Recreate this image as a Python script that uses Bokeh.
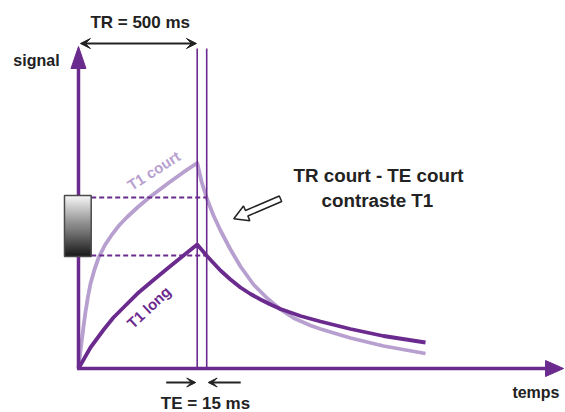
import numpy as np
from bokeh.plotting import figure
from bokeh.models import Range1d, Arrow, VeeHead, LinearColorMapper
from bokeh.palettes import Greys256
from bokeh.core.properties import value
from bokeh.embed import file_html
from bokeh.resources import INLINE

# ---------------- data (time in ms, signal in arbitrary units) ----------------
TR_MS = 500          # repetition time
TE_MS = 15           # echo time
te_line_ms = 540     # schematic position of the TE line (drawn wider than scale)

# T1 court (short T1) : recovery then decay
court_t = [0, 6.3, 15.6, 22.3, 29.5, 40.0, 50.5, 67.4, 85.5, 111.6, 141.9, 170.6,
           205.1, 252.7, 303.3, 387.5, 442.3, 500,
           518.1, 539.1, 568.6, 598.1, 640.2, 682.3, 737.1, 796.1, 850.8, 905.6,
           977.2, 1019.3, 1145.7, 1284.7, 1461.6]
court_s = [0, 6.75, 15.65, 22.0, 28.25, 36.0, 42.35, 49.5, 55.65, 61.75, 67.1, 71.5,
           75.75, 81.0, 86.0, 93.5, 98.15, 102.75,
           93.5, 85.5, 76.5, 69.0, 59.5, 51.0, 42.0, 35.0, 29.5, 25.25,
           21.5, 19.75, 15.25, 11.25, 7.5]

# T1 long : recovery then decay
long_t = [0, 25.3, 50.5, 106.6, 147.4, 198.0, 247.2, 315.9, 387.5, 442.3, 500,
          539.1, 598.1, 640.2, 682.3, 724.5, 766.6, 808.7, 850.8, 935.1, 1019.3,
          1145.7, 1284.7, 1461.6]
long_s = [0, 5.25, 10.5, 19.5, 25.5, 31.5, 37.35, 44.25, 51.25, 56.5, 62.0,
          56.5, 49.0, 44.5, 40.5, 37.25, 34.5, 32.0, 29.75, 26.25, 23.5,
          19.75, 16.25, 13.0]

# signal read at TE for each tissue (dashed levels)
signal_at_te = [85.5, 56.5]

labels_main = ["TR = 500 ms", "TE = 15 ms"]
axis_labels = ["signal", "temps"]
curve_labels = ["T1 court", "T1 long"]
note_lines = ["TR court - TE court", "contraste T1"]

# ---------------- layout ----------------
W, H = 565, 412
X0, X1 = -328.5, 2051.2
Y0, Y1 = -22.0, 184.0
TX = (X1 - X0) / W     # ms per pixel
SY = (Y1 - Y0) / H     # signal units per pixel

DARK = "#6b2a8e"
LIGHT = "#b79fcf"
INK = "#222222"
FONT = value("Liberation Sans")

p = figure(width=W, height=H, x_range=Range1d(X0, X1), y_range=Range1d(Y0, Y1),
           output_backend="svg", toolbar_location=None,
           x_axis_location=None, y_axis_location=None,
           min_border=0, outline_line_color=None, background_fill_color="white",
           border_fill_color="white")
p.grid.grid_line_color = None


def poly_arrow(tail, tip, head_len, head_half, shaft_half):
    """Return data-space outline of a block arrow (sizes given in pixels)."""
    tx, ty = tail[0] / TX, tail[1] / SY
    px, py = tip[0] / TX, tip[1] / SY
    dx, dy = px - tx, py - ty
    L = np.hypot(dx, dy)
    ux, uy = dx / L, dy / L
    nx, ny = -uy, ux
    bx, by = px - head_len * ux, py - head_len * uy
    pts = [
        (px, py),
        (bx + head_half * nx, by + head_half * ny),
        (bx + shaft_half * nx, by + shaft_half * ny),
        (tx + shaft_half * nx, ty + shaft_half * ny),
        (tx - shaft_half * nx, ty - shaft_half * ny),
        (bx - shaft_half * nx, by - shaft_half * ny),
        (bx - head_half * nx, by - head_half * ny),
    ]
    return [q[0] * TX for q in pts], [q[1] * SY for q in pts]


# curves
p.line(court_t, court_s, line_color=LIGHT, line_width=3.8, line_join="round")
p.line(long_t, long_s, line_color=DARK, line_width=3.8, line_join="round")

# dashed levels from the grey scale bar to the TE line
BAR_LEFT, BAR_RIGHT = -59.0, 53.5
for lvl in signal_at_te:
    p.line([BAR_RIGHT, te_line_ms], [lvl, lvl], line_color=DARK, line_width=1.8,
           line_dash="5 3")

# TR and TE vertical lines
Y_TOP_LINES = 160.0
p.segment(x0=[TR_MS, te_line_ms], y0=[0, 0], x1=[TR_MS, te_line_ms],
          y1=[Y_TOP_LINES, Y_TOP_LINES], line_color=DARK, line_width=1.6)

# axes (drawn as glyphs so the grey bar can sit on top)
Y_AXIS_TOP = 161.0
X_AXIS_END = 2043.0
p.line([0, 0], [0, Y_AXIS_TOP - 12 * SY], line_color=DARK, line_width=3.5)
p.line([-1.5 * TX, X_AXIS_END - 12 * TX], [0, 0], line_color=DARK, line_width=3.5)
hx, hy = poly_arrow((0, Y_AXIS_TOP - 30 * SY), (0, Y_AXIS_TOP), 22, 7.5, 0.1)
p.patch([hx[0], hx[1], hx[6]], [hy[0], hy[1], hy[6]], fill_color=DARK, line_color=DARK)
hx, hy = poly_arrow((X_AXIS_END - 30 * TX, 0), (X_AXIS_END, 0), 18, 8, 0.1)
p.patch([hx[0], hx[1], hx[6]], [hy[0], hy[1], hy[6]], fill_color=DARK, line_color=DARK)

# grey-scale bar
BAR_BOTTOM, BAR_TOP = 56.0, 86.5
grad = np.linspace(0.10, 0.96, 60).reshape(60, 1)
p.image(image=[grad], x=BAR_LEFT, y=BAR_BOTTOM, dw=BAR_RIGHT - BAR_LEFT,
        dh=BAR_TOP - BAR_BOTTOM,
        color_mapper=LinearColorMapper(palette=Greys256, low=0, high=1))
p.quad(left=[BAR_LEFT], right=[BAR_RIGHT], bottom=[BAR_BOTTOM], top=[BAR_TOP],
       fill_color=None, line_color="#4a4a4a", line_width=1.5)

# hollow pointer arrow
ax, ay = poly_arrow((850.8, 84.85), (654.1, 74.85), 14, 8, 3)
p.patch(ax, ay, fill_color="white", line_color=INK, line_width=1.5)

# TR dimension arrow and TE arrows
TR_Y = 162.5
p.add_layout(Arrow(start=VeeHead(size=10, fill_color=INK, line_color=INK),
                   end=VeeHead(size=10, fill_color=INK, line_color=INK),
                   x_start=8, y_start=TR_Y, x_end=TR_MS - 3, y_end=TR_Y,
                   line_color=INK, line_width=2))
TE_Y = -7.0
p.add_layout(Arrow(end=VeeHead(size=9, fill_color=INK, line_color=INK),
                   x_start=TR_MS - 31 * TX, y_start=TE_Y, x_end=TR_MS - 1.5 * TX, y_end=TE_Y,
                   line_color=INK, line_width=2))
p.add_layout(Arrow(end=VeeHead(size=9, fill_color=INK, line_color=INK),
                   x_start=te_line_ms + 34 * TX, y_start=TE_Y, x_end=te_line_ms + 1.5 * TX,
                   y_end=TE_Y, line_color=INK, line_width=2))

# texts
p.text(x=[TR_MS / 2 + 10], y=[173], text=[labels_main[0]], text_font=FONT,
       text_font_size="17px", text_font_style="bold", text_color=INK,
       text_align="center", text_baseline="middle")
p.text(x=[535], y=[-17.5], text=[labels_main[1]], text_font=FONT,
       text_font_size="17px", text_font_style="bold", text_color=INK,
       text_align="center", text_baseline="middle")
p.text(x=[-177], y=[154], text=[axis_labels[0]], text_font=FONT,
       text_font_size="16px", text_font_style="bold", text_color=INK,
       text_align="center", text_baseline="middle")
p.text(x=[2026], y=[-12], text=[axis_labels[1]], text_font=FONT,
       text_font_size="16px", text_font_style="bold", text_color=INK,
       text_align="right", text_baseline="middle")
p.text(x=[1263.6, 1259], y=[96.5, 84], text=note_lines, text_font=FONT,
       text_font_size="18.8px", text_font_style="bold", text_color=INK,
       text_align="center", text_baseline="middle")
p.text(x=[317.2], y=[99], text=[curve_labels[0]], angle=0.57, text_font=FONT,
       text_font_size="15px", text_font_style="bold", text_color=LIGHT,
       text_align="center", text_baseline="middle")
p.text(x=[296.1], y=[30.65], text=[curve_labels[1]], angle=0.75, text_font=FONT,
       text_font_size="15px", text_font_style="bold", text_color=DARK,
       text_align="center", text_baseline="middle")

open("out.html", "w").write(file_html(p, INLINE))
